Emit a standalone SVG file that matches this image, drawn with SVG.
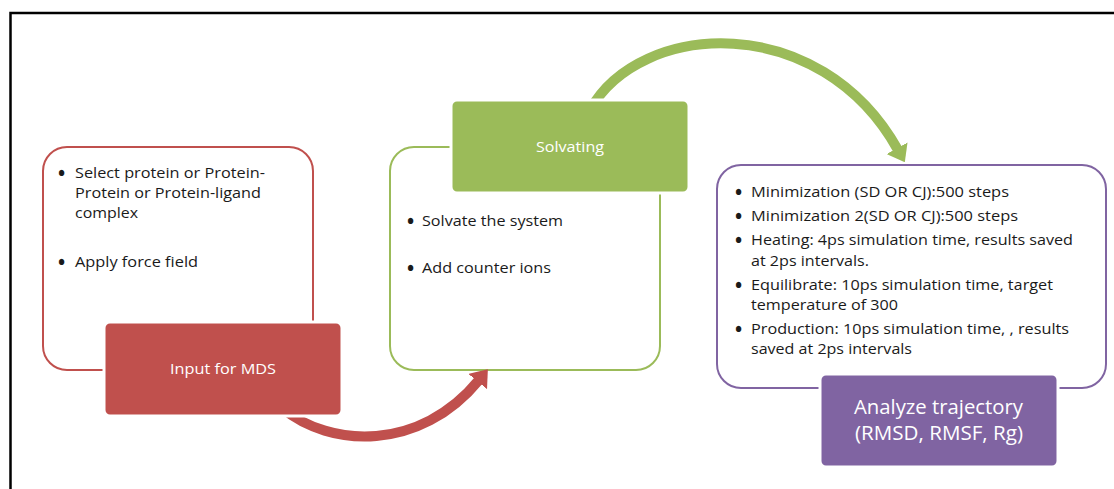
<svg xmlns="http://www.w3.org/2000/svg" width="1114" height="489" viewBox="0 0 1114 489">
  <style>
    .frame { fill: none; stroke: #000; stroke-width: 2.5; }
    .outline { fill: #fff; stroke-width: 2; }
    .head { stroke: #fff; stroke-width: 3; }
    .txt { font-family: "Open Sans", Lato, "Liberation Sans", sans-serif; font-size: 14px; fill: #1a1a1a; }
    .dot { font-family: "Open Sans", Lato, "Liberation Sans", sans-serif; font-size: 19px; font-weight: bold; fill: #1a1a1a; }
    .title { font-family: "Open Sans", Lato, "Liberation Sans", sans-serif; fill: #fff; }
    .link { fill: none; stroke-width: 10; }
  </style>
  <defs>
    <marker id="ahRed" viewBox="0 0 16 24" markerWidth="16" markerHeight="24" refX="2" refY="12" orient="auto" markerUnits="userSpaceOnUse">
      <path d="M0,0 L16,12 L0,24 Z" fill="#C0504D"/>
    </marker>
    <marker id="ahGreen" viewBox="0 0 16 24" markerWidth="16" markerHeight="24" refX="2" refY="12" orient="auto" markerUnits="userSpaceOnUse">
      <path d="M0,0 L16,12 L0,24 Z" fill="#9BBB59"/>
    </marker>
  </defs>

  <rect width="1114" height="489" fill="#fff"/>
  <!-- page frame: only the top and left edges fall inside the canvas -->
  <path class="frame" d="M10.5,489 L10.5,13 L1114,13"/>

  <!-- detail panels -->
  <g id="input-details">
    <rect class="outline" x="43" y="147" width="270" height="223" rx="24" stroke="#C0504D"/>
    <text class="dot" x="58" y="180">•</text>
    <text class="txt" x="75" y="178" textLength="190" lengthAdjust="spacingAndGlyphs">Select protein or Protein-</text>
    <text class="txt" x="75" y="198" textLength="186" lengthAdjust="spacingAndGlyphs">Protein or Protein-ligand</text>
    <text class="txt" x="75" y="218" textLength="63" lengthAdjust="spacingAndGlyphs">complex</text>
    <text class="dot" x="58" y="269">•</text>
    <text class="txt" x="75" y="267" textLength="123" lengthAdjust="spacingAndGlyphs">Apply force field</text>
  </g>
  <g id="solvating-details">
    <rect class="outline" x="390" y="147" width="270" height="223" rx="24" stroke="#9BBB59"/>
    <text class="dot" x="407" y="228">•</text>
    <text class="txt" x="422" y="226" textLength="141" lengthAdjust="spacingAndGlyphs">Solvate the system</text>
    <text class="dot" x="407" y="275">•</text>
    <text class="txt" x="422" y="273" textLength="129" lengthAdjust="spacingAndGlyphs">Add counter ions</text>
  </g>
  <g id="md-details">
    <rect class="outline" x="717" y="165" width="389" height="223" rx="24" stroke="#8064A2"/>
    <text class="dot" x="735" y="199">•</text>
    <text class="txt" x="751" y="197" textLength="258" lengthAdjust="spacingAndGlyphs">Minimization (SD OR CJ):500 steps</text>
    <text class="dot" x="735" y="223">•</text>
    <text class="txt" x="751" y="221" textLength="267" lengthAdjust="spacingAndGlyphs">Minimization 2(SD OR CJ):500 steps</text>
    <text class="dot" x="735" y="247">•</text>
    <text class="txt" x="751" y="245" textLength="322" lengthAdjust="spacingAndGlyphs">Heating: 4ps simulation time, results saved</text>
    <text class="txt" x="751" y="266" textLength="118" lengthAdjust="spacingAndGlyphs">at 2ps intervals.</text>
    <text class="dot" x="735" y="292">•</text>
    <text class="txt" x="751" y="290" textLength="302" lengthAdjust="spacingAndGlyphs">Equilibrate: 10ps simulation time, target</text>
    <text class="txt" x="751" y="310" textLength="147" lengthAdjust="spacingAndGlyphs">temperature of 300</text>
    <text class="dot" x="735" y="336">•</text>
    <text class="txt" x="751" y="334" textLength="318" lengthAdjust="spacingAndGlyphs">Production: 10ps simulation time, , results</text>
    <text class="txt" x="751" y="354" textLength="161" lengthAdjust="spacingAndGlyphs">saved at 2ps intervals</text>
  </g>

  <!-- connectors between stages -->
  <g id="connectors">
    <path class="link" stroke="#C0504D" d="M282,408 C330,448 420,452 479,380" marker-end="url(#ahRed)"/>
    <path class="link" stroke="#9BBB59" d="M590,110 C640,20 820,10 898,150" marker-end="url(#ahGreen)"/>
  </g>

  <!-- stage headers -->
  <g id="input-for-mds">
    <rect class="head" x="104" y="322" width="238" height="94" rx="6" fill="#C0504D"/>
    <text class="title" x="170" y="374" font-size="14.5" textLength="106" lengthAdjust="spacingAndGlyphs">Input for MDS</text>
  </g>
  <g id="solvating">
    <rect class="head" x="451" y="100" width="238" height="93" rx="6" fill="#9BBB59"/>
    <text class="title" x="536" y="152" font-size="14.5" textLength="68" lengthAdjust="spacingAndGlyphs">Solvating</text>
  </g>
  <g id="analyze-trajectory">
    <rect class="head" x="820" y="374" width="238" height="93" rx="6" fill="#8064A2"/>
    <text class="title" x="854" y="414" font-size="19.5" textLength="169" lengthAdjust="spacingAndGlyphs">Analyze trajectory</text>
    <text class="title" x="855" y="440" font-size="19.5" textLength="168" lengthAdjust="spacingAndGlyphs">(RMSD, RMSF, Rg)</text>
  </g>
</svg>
